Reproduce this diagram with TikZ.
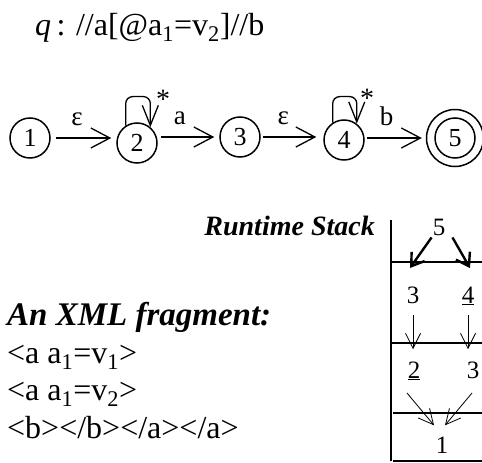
\documentclass[tikz,border=0pt]{standalone}
\usepackage{fontspec}
\setmainfont{Liberation Serif}
\usetikzlibrary{arrows.meta}

\begin{document}
\begin{tikzpicture}[x=1pt,y=-1pt,
  state/.style={circle,draw,line width=1.5pt,minimum size=40pt,inner sep=0pt,
    font=\fontsize{26}{30}\selectfont},
  final/.style={circle,draw,line width=1.5pt,minimum size=57pt,inner sep=0pt},
  arr/.style={line width=1.3pt,-{Straight Barb[length=19pt,width=20pt]}},
  looparr/.style={line width=1.3pt,rounded corners=7pt,-{Straight Barb[length=20pt,width=16pt]}},
  lbl/.style={inner sep=0pt,above=12pt,font=\fontsize{27}{30}\selectfont},
  eps/.style={inner sep=0pt,above=12pt,font=\fontsize{27}{30}\selectfont},
  starlbl/.style={inner sep=0pt,font=\fontsize{28}{30}\selectfont},
  dig/.style={inner sep=0pt,anchor=base,font=\fontsize{25}{30}\selectfont},
  rule/.style={line width=1.2pt},
  boldarr/.style={line width=2.4pt,-{Straight Barb[length=12pt,width=16pt]}},
  thinarr/.style={line width=0.8pt,-{Straight Barb[length=15pt,width=15pt]}},
  heading/.style={inner sep=0pt,anchor=base west,font=\fontsize{33}{38}\selectfont\bfseries\itshape},
  plain/.style={inner sep=0pt,anchor=base west,font=\fontsize{32}{37}\selectfont}
]
\useasboundingbox (0,0) rectangle (482,463);

% the query
\node[plain] (query) at (35,35)
  {\textit{q}\,: //a[@a\textsubscript{1}=v\textsubscript{2}]//b};

% automaton states
\node[state] (n1) at (30,138) {1};
\node[state] (n2) at (137,143) {2};
\node[state] (n3) at (240,137) {3};
\node[state] (n4) at (344,140) {4};
\node[state] (n5) at (455,138) {5};
\node[final] (n5o) at (n5) {};

% transitions
\draw[arr,shorten <=5pt,shorten >=5pt] (n1.east) -- node[eps,pos=0.4] {ε} (n1 -| n2.west);
\draw[arr,shorten <=3pt,shorten >=5pt] (n2.east |- n3) -- node[lbl,pos=0.36] {a} (n3.west);
\draw[arr,shorten <=2pt,shorten >=7pt] (n3.east) -- node[eps,pos=0.36] {ε} (n3 -| n4.west);
\draw[arr,shorten <=2pt,shorten >=4pt] (n4.east |- n5) -- node[lbl,pos=0.36] {b} (n5o.west);

% self loops
\draw[looparr] (n2.123) -- ++(0,-29) -| (n2.50);
\node[starlbl] (st2) at ([shift={(26,-44)}]n2.center) {*};
\draw[looparr] (n4.123) -- ++(0,-26) -| (n4.52);
\node[starlbl] (st4) at ([shift={(23,-42)}]n4.center) {*};

% runtime stack
\node[inner sep=0pt,anchor=base east,font=\fontsize{28}{33}\selectfont\bfseries\itshape]
  (rtitle) at (375,235) {Runtime Stack};
\coordinate (sTop) at (391,220);
\coordinate (sBot) at (391,461);
\draw[rule] (sTop) -- (sBot);
\draw[rule] (391,262) -- (482,262);
\draw[rule] (392,343) -- (482,343);
\draw[rule] (393,413) -- (482,413);
\draw[rule] (393,461) -- (482,461);

\node[dig] (s5) at (439,235) {5};
\node[dig] (s3a) at (413,303) {3};
\node[dig] (s4) at (468,303) {\underline{4}};
\node[dig] (s2) at (414,378) {\underline{2}};
\node[dig] (s3b) at (473,378) {3};
\node[dig] (s1) at (442,453) {1};

\coordinate (b5l) at (410,268);
\coordinate (b5r) at (470,268);
\draw[boldarr] ([shift={(-1,2)}]s5.south west) -- (b5l);
\draw[boldarr] ([shift={(7,2)}]s5.south east) -- (b5r);

\draw[thinarr,shorten <=12pt,shorten >=12pt] (s3a.base) -- (s3a.base |- s2.north);
\draw[thinarr,shorten <=12pt,shorten >=12pt] (s4.base) -- (s4.base |- s3b.north);

\draw[thinarr] ([shift={(-7,15)}]s2.base) -- ([shift={(-8,-11)}]s1.north);
\draw[thinarr] ([shift={(-1,15)}]s3b.base) -- ([shift={(3,-11)}]s1.north);

% XML fragment
\node[heading] (xhead) at (7,325) {An XML fragment:};
\node[plain] (x1) at (7,363) {<a a\textsubscript{1}=v\textsubscript{1}>};
\node[plain] (x2) at (7,400) {<a a\textsubscript{1}=v\textsubscript{2}>};
\node[plain] (x3) at (7,438) {<b></b></a></a>};
\end{tikzpicture}
\end{document}
